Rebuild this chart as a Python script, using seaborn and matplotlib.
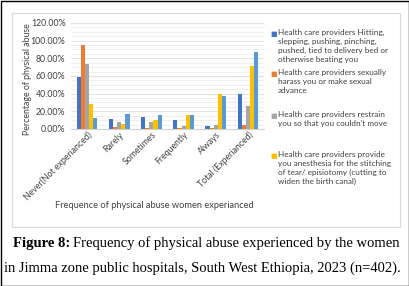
import pandas as pd
import numpy as np
import matplotlib
matplotlib.use("Agg")
import matplotlib.pyplot as plt
import seaborn as sns
from matplotlib.patches import Rectangle

# Data (percent)
categories = ["Never(Not experianced)", "Rarely", "Sometimes", "Frequently", "Always", "Total (Experianced)"]
series_names = [
    "Health care providers Hitting,\nslepping, pushing, pinching,\npushed, tied to delivery bed or\notherwise beating you",
    "Health care providers sexually\nharass you or make sexual\nadvance",
    "Health care providers restrain\nyou so that you couldn't move",
    "Health care providers provide\nyou anesthesia for the stitching\nof tear/ episiotomy (cutting to\nwiden the birth canal)",
    "Other",
]
hitting = [59.2, 11.4, 13.3, 9.9, 3.8, 39.5]
harass = [95.3, 2.0, 1.0, 0.6, 0.7, 4.2]
restrain = [73.7, 7.6, 7.6, 3.8, 4.2, 25.5]
anesthesia = [27.8, 5.7, 9.9, 15.6, 39.1, 71.4]
other = [12.5, 16.7, 15.6, 15.6, 36.9, 86.6]

colors = ["#4472C4", "#ED7D31", "#A5A5A5", "#FFC000", "#5B9BD5"]

rows = []
for name, vals in zip(series_names, [hitting, harass, restrain, anesthesia, other]):
    for c, v in zip(categories, vals):
        rows.append({"category": c, "series": name, "value": v})
df = pd.DataFrame(rows)

sns.set_theme(style="white")
plt.rcParams["font.family"] = ["Lato", "DejaVu Sans"]

fig = plt.figure(figsize=(4.09, 2.86), dpi=100)
ax = fig.add_axes([0.1736, 0.549, 0.472, 0.3706])

sns.barplot(data=df, x="category", y="value", hue="series", order=categories,
            hue_order=series_names, palette=colors, width=0.64, linewidth=0,
            saturation=1, ax=ax, legend=False)

ax.set_ylim(0, 120)
ax.set_yticks(np.arange(0, 121, 20))
ax.set_yticklabels([f"{v:.2f}%" for v in np.arange(0, 121, 20)], fontsize=6.3, color="#404040")
ax.set_yticks(np.arange(0, 121, 5), minor=True)
ax.tick_params(axis="y", which="both", length=0, pad=4)
ax.tick_params(axis="x", length=0, pad=1)
ax.grid(axis="y", which="minor", color="#ededed", linewidth=0.6)
ax.grid(axis="y", which="major", color="#e3e3e3", linewidth=0.7)
for v in (60, 120):
    ax.axhline(v, color="#d0d0d0", linewidth=0.9, zorder=0)
ax.set_axisbelow(True)
for s in ["top", "right", "left"]:
    ax.spines[s].set_visible(False)
ax.spines["bottom"].set_color("#d0d0d0")
ax.spines["bottom"].set_linewidth(0.8)

ax.set_xticks(range(len(categories)))
ax.set_xticklabels(categories, rotation=45, ha="right", rotation_mode="anchor",
                   fontsize=6.3, color="#404040")
ax.set_xlabel("")
ax.set_ylabel("Percentage of physical abuse", fontsize=6.3, color="#404040", labelpad=4)
ax.yaxis.set_label_coords(-0.2, 0.47)
fig.text(154 / 409, 1 - 206 / 286, "Frequence of physical abuse women experianced",
         ha="center", va="center", fontsize=6.7, color="#404040")

# legend (first four entries visible)
leg_y = [33, 73, 115, 155]
for col, name, y in zip(colors[:4], series_names[:4], leg_y):
    fig.text(270 / 409, 1 - (y + 1) / 286, "\u25A0", color=col, fontsize=5,
             ha="left", va="center", family="DejaVu Sans")
    fig.text(278 / 409, 1 - (y - 4) / 286, name, color="#404040", fontsize=5.9,
             ha="left", va="top", linespacing=1.3)

# chart box and outer frame
fig.patches.append(Rectangle((12 / 409, 1 - 227 / 286), 388 / 409, 214 / 286,
                             transform=fig.transFigure, fill=False,
                             edgecolor="#d9d9d9", linewidth=0.8))
fig.patches.append(Rectangle((0.5 / 409, 0.5 / 286), 408 / 409, 285 / 286,
                             transform=fig.transFigure, fill=False,
                             edgecolor="black", linewidth=1.0))

# caption
fig.canvas.draw()
r = fig.canvas.get_renderer()
cap_font = ["Liberation Serif", "DejaVu Serif"]
t1 = fig.text(13 / 409, 1 - 243 / 286, "Figure 8:", fontsize=10.5, fontweight="bold",
              family=cap_font, ha="left", va="center", color="black")
bb = t1.get_window_extent(r)
fig.text((bb.x1 + 3) / 409, 1 - 243 / 286, "Frequency of physical abuse experienced by the women",
         fontsize=10.5, family=cap_font, ha="left", va="center", color="black")
fig.text(4 / 409, 1 - 268 / 286, "in Jimma zone public hospitals, South West Ethiopia, 2023 (n=402).",
         fontsize=10.5, family=cap_font, ha="left", va="center", color="black")

fig.savefig("out.png", dpi=100)
